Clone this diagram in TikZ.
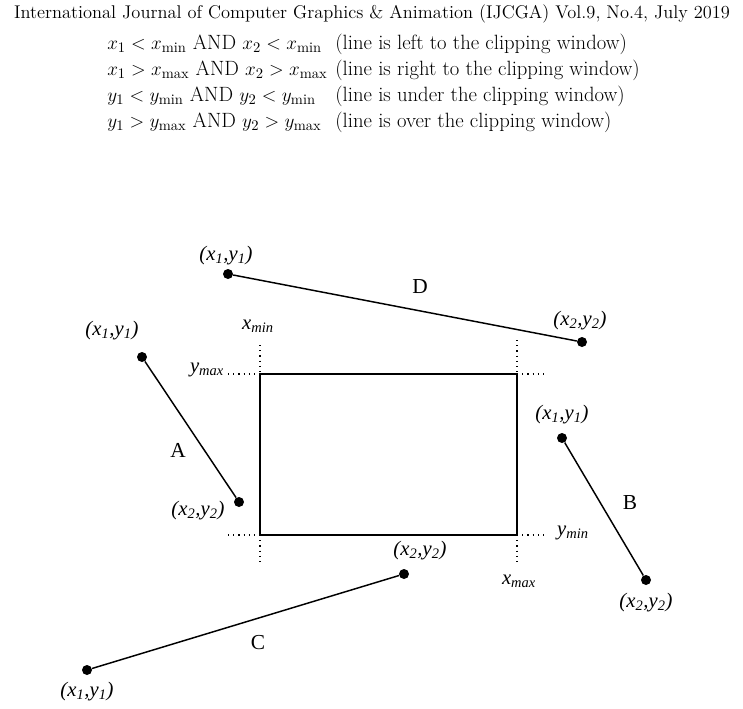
\documentclass[tikz,border=0pt]{standalone}
\usepackage{fontspec}
\newfontfamily\tnr{Liberation Serif}
\newcommand{\pxy}[1]{{\tnr\itshape (x\textsubscript{#1},y\textsubscript{#1})}}
\begin{document}
\begin{tikzpicture}[x=0.75pt,y=-0.75pt,
  pt/.style={circle,fill=black,inner sep=0pt,minimum size=7.5pt},
  seg/.style={line width=1.1pt},
  dot/.style={line width=0.9pt,dash pattern=on 0.9pt off 3pt},
  lab/.style={font=\fontsize{15.5}{17}\selectfont\tnr\itshape,inner sep=1pt},
  let/.style={font=\fontsize{16}{18}\selectfont\tnr,inner sep=1pt}]
\useasboundingbox (0,0) rectangle (743,708);
\node (hdr) at (372,14) {\fontsize{13.8}{15}\selectfont International Journal of Computer Graphics \& Animation (IJCGA) Vol.9, No.4, July 2019};
\node[anchor=west,inner sep=0pt] (cond) at (107,83) {\fontsize{15.5}{19.5}\selectfont
\begin{tabular}{@{}l@{\hspace{6pt}}l@{}}
$x_1<x_{\min}$ AND $x_2<x_{\min}$ & (line is left to the clipping window)\\
$x_1>x_{\max}$ AND $x_2>x_{\max}$ & (line is right to the clipping window)\\
$y_1<y_{\min}$ AND $y_2<y_{\min}$ & (line is under the clipping window)\\
$y_1>y_{\max}$ AND $y_2>y_{\max}$ & (line is over the clipping window)
\end{tabular}};
% window
\draw[line width=1.1pt] (260,374) rectangle (517,535);
\draw[dot] (260,345) -- (260,374) (260,535) -- (260,566)
  (517,340) -- (517,374) (517,535) -- (517,566)
  (228,374) -- (260,374) (517,374) -- (546,374)
  (228,535) -- (260,535) (517,535) -- (546,535);
\node[lab] (xmin) at (258,326) {x\textsubscript{min}};
\node[lab] (ymax) at (207,370) {y\textsubscript{max}};
\node[lab] (ymin) at (573,533) {y\textsubscript{min}};
\node[lab] (xmax) at (519,581) {x\textsubscript{max}};
% D
\node[pt] (d1) at (228,274) {}; \node[pt] (d2) at (582,342) {};
\draw[seg] (d1) -- (d2);
\node[lab] (d1l) at (226,256) {\pxy1}; \node[lab] (d2l) at (580,321) {\pxy2};
\node[let] (dl) at (420,287) {D};
% A
\node[pt] (a1) at (142,357) {}; \node[pt] (a2) at (239,502) {};
\draw[seg] (a1) -- (a2);
\node[lab] (a1l) at (112,331) {\pxy1}; \node[lab] (a2l) at (198,511) {\pxy2};
\node[let] (al) at (178,450) {A};
% B
\node[pt] (b1) at (562,438) {}; \node[pt] (b2) at (646,580) {};
\draw[seg] (b1) -- (b2);
\node[lab] (b1l) at (562,415) {\pxy1}; \node[lab] (b2l) at (646,603) {\pxy2};
\node[let] (bl) at (630,503) {B};
% C
\node[pt] (c1) at (87,670) {}; \node[pt] (c2) at (404,574) {};
\draw[seg] (c1) -- (c2);
\node[lab] (c1l) at (87,692) {\pxy1}; \node[lab] (c2l) at (420,551) {\pxy2};
\node[let] (cl) at (258,643) {C};
\end{tikzpicture}
\end{document}
